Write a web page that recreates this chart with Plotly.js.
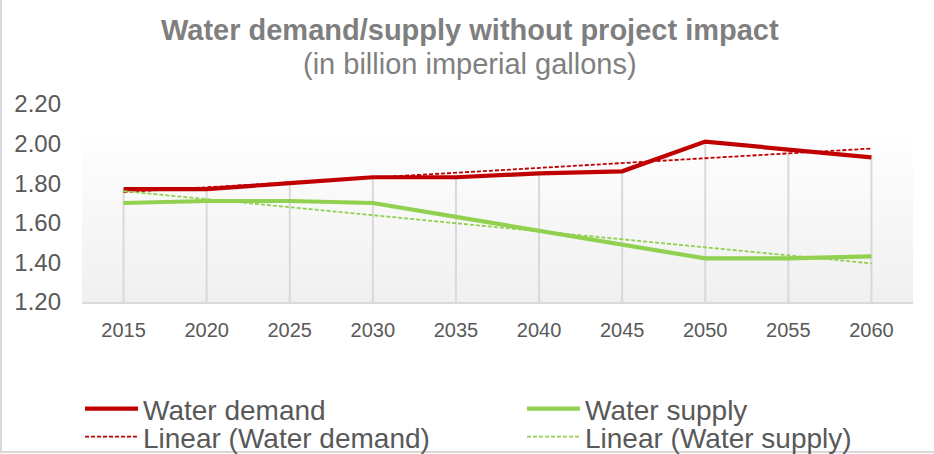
<!DOCTYPE html>
<html>
<head>
<meta charset="utf-8">
<script src="https://cdn.plot.ly/plotly-3.0.1.min.js"></script>
<style>
html,body{margin:0;padding:0;background:#fff;}
#chart{width:934px;height:454px;}
</style>
</head>
<body>
<div id="chart"></div>
<script>
// ---- data ----
const years = ['2015','2020','2025','2030','2035','2040','2045','2050','2055','2060'];
const waterDemand = [1.77, 1.77, 1.80, 1.83, 1.83, 1.85, 1.86, 2.01, 1.97, 1.93];
const waterSupply = [1.70, 1.71, 1.71, 1.70, 1.63, 1.56, 1.49, 1.42, 1.42, 1.43];
// trend lines (Excel linear trendlines) as read at the first and last year
const trendYears = ['2015','2060'];
const demandTrend = [1.755, 1.975];
const supplyTrend = [1.76, 1.395];
const yTicks = [1.2, 1.4, 1.6, 1.8, 2.0, 2.2];
const titleText = 'Water demand/supply without project impact';
const subtitleText = '(in billion imperial gallons)';

const W = 934, H = 454;
const M = {l: 82, r: 21, t: 104, b: 152, autoexpand: false};
const plotW = W - M.l - M.r, plotH = H - M.t - M.b;
const yMin = 1.2, yMax = 2.2;

const RED = '#c00000', GREEN = '#92d050', GRID = '#d9d9d9', TXT = '#595959', TITLE = '#7f7f7f';
const FONT = 'Liberation Sans, Arial, sans-serif';

// drop lines: from the highest series point down to the axis
const topVals = years.map((_, i) => Math.max(waterDemand[i], waterSupply[i]));
const dropTrace = {
  x: years, y: topVals, type: 'scatter', mode: 'markers',
  marker: {size: 1, opacity: 0}, showlegend: false, hoverinfo: 'skip',
  error_y: {type: 'data', symmetric: false, array: years.map(() => 0),
            arrayminus: topVals.map(v => v - yMin), width: 0, thickness: 2, color: GRID}
};

const traces = [
  dropTrace,
  {x: years, y: waterDemand, name: 'Water demand', type: 'scatter', mode: 'lines',
   line: {color: RED, width: 4.2}, legend: 'legend'},
  {x: years, y: waterSupply, name: 'Water supply', type: 'scatter', mode: 'lines',
   line: {color: GREEN, width: 4.2}, legend: 'legend2'},
  {x: trendYears, y: demandTrend, name: 'Linear (Water demand)', type: 'scatter', mode: 'lines',
   line: {color: RED, width: 1.8, dash: '4px,2px'}, legend: 'legend3'},
  {x: trendYears, y: supplyTrend, name: 'Linear (Water supply)', type: 'scatter', mode: 'lines',
   line: {color: GREEN, width: 1.8, dash: '4px,2px'}, legend: 'legend4'}
];

const gradSvg = "<svg xmlns='http://www.w3.org/2000/svg' width='10' height='10' preserveAspectRatio='none'>" +
  "<defs><linearGradient id='g' x1='0' y1='0' x2='0' y2='1'>" +
  "<stop offset='0' stop-color='#fefefe'/><stop offset='1' stop-color='#f0f0f0'/></linearGradient></defs>" +
  "<rect width='10' height='10' fill='url(#g)'/></svg>";

function legendAt(px, py) {
  return {
    orientation: 'h', xanchor: 'left', yanchor: 'middle',
    x: (px - M.l) / plotW, y: -(py - (M.t + plotH)) / plotH,
    font: {family: FONT, size: 28, color: TXT},
    bgcolor: 'rgba(0,0,0,0)', itemwidth: 53, borderwidth: 0,
    itemclick: false, itemdoubleclick: false
  };
}

const layout = {
  width: W, height: H,
  margin: M,
  paper_bgcolor: '#ffffff', plot_bgcolor: 'rgba(0,0,0,0)',
  font: {family: FONT, color: TXT},
  title: {
    text: '<b>' + titleText + '</b>',
    font: {family: FONT, size: 29, color: TITLE},
    x: 0.503, xref: 'container', xanchor: 'center', yref: 'container', y: 1 - 30 / H, yanchor: 'middle'
  },
  annotations: [{
    text: subtitleText, showarrow: false,
    xref: 'paper', yref: 'paper', x: (470 - M.l) / plotW, y: 1 + (M.t - 64) / plotH,
    xanchor: 'center', yanchor: 'middle',
    font: {family: FONT, size: 29, color: TITLE}
  }],
  xaxis: {
    type: 'category', range: [-0.5, years.length - 0.5],
    showgrid: false, zeroline: false, showline: true, linecolor: GRID, linewidth: 2,
    ticks: '', tickfont: {family: FONT, size: 20, color: TXT}, ticklabelstandoff: 9
  },
  yaxis: {
    range: [yMin, yMax], tickvals: yTicks, tickformat: '.2f',
    showgrid: false, zeroline: false, showline: false, ticks: '',
    tickfont: {family: FONT, size: 24, color: TXT}, ticklabelstandoff: 20
  },
  legend: legendAt(80, 409),
  legend2: legendAt(522, 409),
  legend3: legendAt(80, 437),
  legend4: legendAt(522, 437),
  images: [{
    source: 'data:image/svg+xml;charset=utf-8,' + encodeURIComponent(gradSvg),
    xref: 'paper', yref: 'y', x: 0, y: 2.03, sizex: 1, sizey: 2.03 - yMin,
    sizing: 'stretch', layer: 'below', xanchor: 'left', yanchor: 'top'
  }],
  shapes: [
    {type: 'line', xref: 'paper', yref: 'paper', x0: -(M.l - 1) / plotW, x1: -(M.l - 1) / plotW,
     y0: -(M.b - 1) / plotH, y1: 1 + M.t / plotH, line: {color: GRID, width: 2}},
    {type: 'line', xref: 'paper', yref: 'paper', x0: -M.l / plotW, x1: 1 + M.r / plotW,
     y0: -(M.b - 2) / plotH, y1: -(M.b - 2) / plotH, line: {color: GRID, width: 2}}
  ],
  hovermode: false
};

Plotly.newPlot('chart', traces, layout, {displayModeBar: false, staticPlot: true});
</script>
</body>
</html>
